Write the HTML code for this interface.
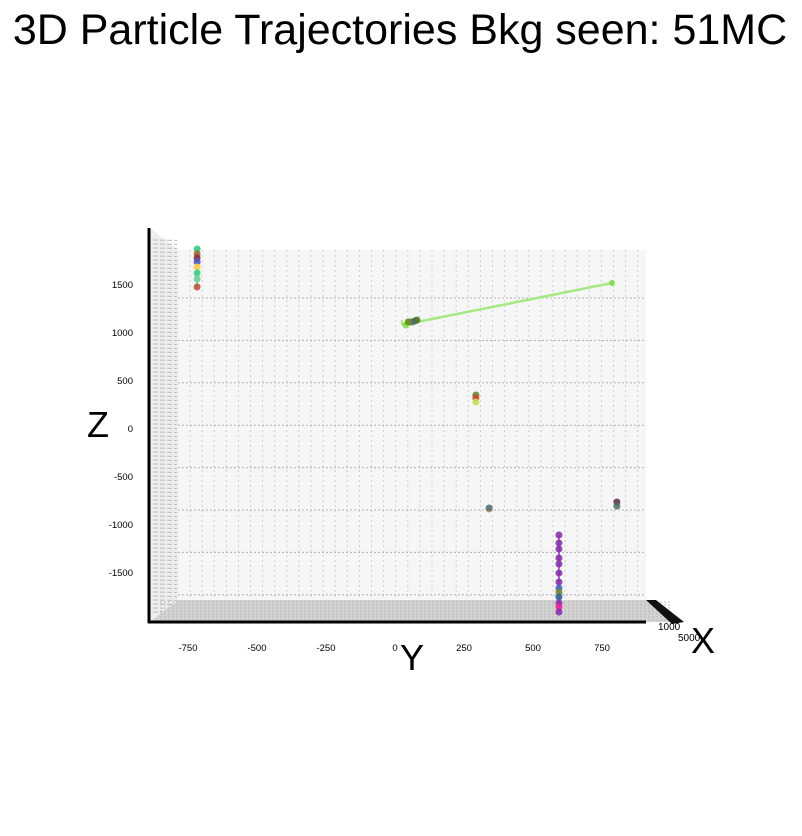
<!DOCTYPE html>
<html><head><meta charset="utf-8">
<style>
body{margin:0;background:#fff;width:802px;height:831px;overflow:hidden;font-family:"Liberation Sans",sans-serif}
</style></head>
<body>
<svg id="chart" width="802" height="831" xmlns="http://www.w3.org/2000/svg">
<text x="400" y="44" font-size="43" text-anchor="middle" font-family="Liberation Sans, sans-serif">3D Particle Trajectories Bkg seen: 51MC</text>
<g id="grid"></g>
<g id="marks"></g>
<text x="98" y="437" font-size="36" text-anchor="middle">Z</text>
<text x="412" y="670" font-size="36" text-anchor="middle">Y</text>
<text x="703" y="653" font-size="36" text-anchor="middle">X</text>
</svg>
<script>
const yTicks=[-750,-500,-250,0,250,500,750];
const zTicks=[1500,1000,500,0,-500,-1000,-1500];
const trackY=[-717,25,293,341,594,804];
const trackZ=[
 [1875,1823,1781,1740,1688,1625,1563,1479],
 [1083,1115,1115,1115,1125,1135],
 [354,323,281],
 [-833,-823],
 [-1104,-1187,-1250,-1344,-1406,-1500,-1594,-1656,-1698,-1750,-1813,-1854,-1906],
 [-760,-802]
];
const trackColors=[
 ["#33cc77","#aa6633","#883344","#5555cc","#ffcc44","#44cc88","#77cc99","#bb5544"],
 ["#88dd55","#6b8e23","#6b8e23","#6b8e23","#4466aa","#557722"],
 ["#668833","#cc4433","#ccdd55"],
 ["#ee9944","#557788"],
 ["#8833aa","#8833aa","#8833aa","#8833aa","#8833aa","#8833aa","#8833aa","#4466cc","#778833","#336699","#8833aa","#ee2299","#8833aa"],
 ["#663355","#557766"]
];
const lineTrack={y:[25,786],z:[1083,1521]};
const sx=y=>395+y*69/250;
const sz=z=>429-z*48/500;
const NS="http://www.w3.org/2000/svg";
function mk(tag,attrs,parent){const e=document.createElementNS(NS,tag);for(const k in attrs)e.setAttribute(k,attrs[k]);parent.appendChild(e);return e;}
const g=document.getElementById('grid');
const bp=mk('rect',{x:178,y:250,width:468,height:350,fill:'#f6f6f6'},g);


const sw=mk('polygon',{points:'150,228 178,250 178,600 150,622',fill:'#eeeeee'},g);


for(let y=240;y<615;y+=4){mk('line',{x1:153,x2:177,y1:y,y2:y+0.5,stroke:'#c4c4c4','stroke-width':1.2,'stroke-dasharray':'5,2'},g);}
const fl=mk('polygon',{points:'178,600 646,600 678,622 150,622',fill:'#d2d2d2'},g);


for(let y=602;y<622;y+=3){mk('line',{x1:160,x2:670,y1:y,y2:y,stroke:'#bbbbbb','stroke-width':1,'stroke-dasharray':'2,2'},g);}
for(let x=190;x<646;x+=12.1){mk('line',{x1:x,x2:x,y1:250,y2:600,stroke:'#cfcfcf','stroke-width':1,'stroke-dasharray':'2,3'},g);}
for(let y=298;y<600;y+=42.4){mk('line',{x1:178,x2:646,y1:y,y2:y,stroke:'#b0b0b0','stroke-width':1,'stroke-dasharray':'2,2'},g);}
mk('line',{x1:149,x2:149,y1:228,y2:623,stroke:'#000','stroke-width':3},g);
mk('line',{x1:148,x2:646,y1:622,y2:622,stroke:'#000','stroke-width':3},g);
mk('polygon',{points:'646,600 656,600 684,622 672,624',fill:'#111'},g);
const xl=mk('text',{x:658,y:630,'font-size':10},g);xl.textContent='1000';


const xl2=mk('text',{x:678,y:641,'font-size':10},g);xl2.textContent='5000';


yTicks.forEach(v=>{const t=mk('text',{x:sx(v),y:651,'font-size':9.5,'text-anchor':'middle'},g);t.textContent=v;

});
zTicks.forEach(v=>{const t=mk('text',{x:133,y:sz(v)+3,'font-size':9.5,'text-anchor':'end'},g);t.textContent=v;

});
const m=document.getElementById('marks');
const ln=mk('line',{x1:sx(lineTrack.y[0]),y1:sz(lineTrack.z[0]),x2:sx(lineTrack.y[1]),y2:sz(lineTrack.z[1]),stroke:'#a6e884','stroke-width':2.5},m);


mk('circle',{cx:sx(lineTrack.y[1]),cy:sz(lineTrack.z[1]),r:3,fill:'#88dd55'},m);
trackY.forEach((y,i)=>{
 const zs=trackZ[i];
 const tl=mk('line',{x1:sx(y),x2:sx(y),y1:sz(Math.max(...zs)),y2:sz(Math.min(...zs)),stroke:trackColors[i][0],'stroke-width':2,opacity:0.7},m);
 
 
 zs.forEach((z,j)=>{
  const c=mk('circle',{cx:sx(y)+(i==1?j*2.2+4:0),cy:sz(z),r:3.5,fill:trackColors[i][j],opacity:0.9},m);
  
  
 });
});
</script>
</body></html>
